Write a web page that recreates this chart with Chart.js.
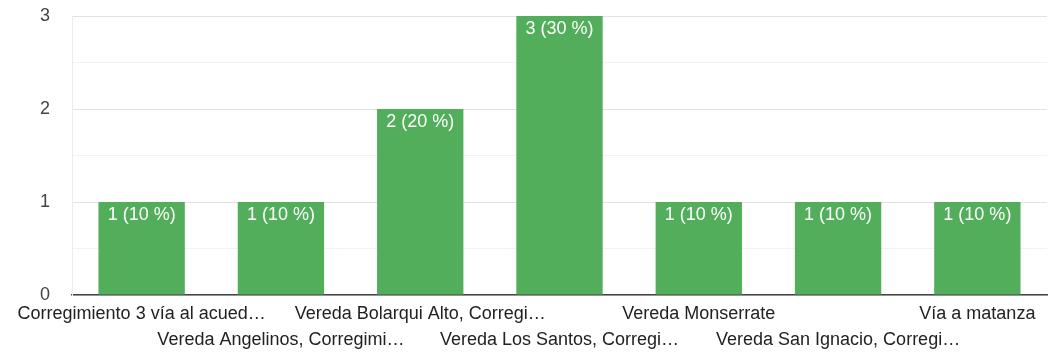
<!DOCTYPE html>
<html>
<head>
<meta charset="utf-8">
<script src="https://cdn.jsdelivr.net/npm/chart.js@4"></script>
<style>
  html, body { margin: 0; padding: 0; background: #fff; }
  #wrap { width: 1052px; height: 356px; }
</style>
</head>
<body>
<div id="wrap"><canvas id="chart" width="1052" height="356"></canvas></div>
<script>
// respuestas por ubicación
const categories = [
  'Corregimiento 3 vía al acued…',
  'Vereda Angelinos, Corregimi…',
  'Vereda Bolarqui Alto, Corregi…',
  'Vereda Los Santos, Corregi…',
  'Vereda Monserrate',
  'Vereda San Ignacio, Corregi…',
  'Vía a matanza'
];
const counts = [1, 1, 2, 3, 1, 1, 1];
const percents = [10, 10, 20, 30, 10, 10, 10];
const yTicks = [0, 1, 2, 3];

const FONT = '"Liberation Sans", Arial, sans-serif';

// etiquetas alternadas en dos filas
const staggered = categories.map((c, i) => (i % 2 === 0 ? [c, ''] : ['', c]));

const barLabels = {
  id: 'barLabels',
  afterDatasetsDraw(chart) {
    const ctx = chart.ctx;
    const meta = chart.getDatasetMeta(0);
    ctx.save();
    ctx.font = '18px ' + FONT;
    ctx.fillStyle = '#ffffff';
    ctx.textAlign = 'center';
    ctx.textBaseline = 'middle';
    meta.data.forEach((bar, i) => {
      ctx.fillText(counts[i] + ' (' + percents[i] + ' %)', bar.x, bar.y + 13);
    });
    ctx.restore();
  }
};

new Chart(document.getElementById('chart'), {
  type: 'bar',
  data: {
    labels: staggered,
    datasets: [{
      data: counts,
      backgroundColor: '#52ae5a',
      borderWidth: 0,
      barPercentage: 0.62,
      categoryPercentage: 1
    }]
  },
  options: {
    responsive: false,
    animation: false,
    layout: { padding: { top: 16, right: 5, left: 0, bottom: 0 } },
    plugins: { legend: { display: false }, tooltip: { enabled: false } },
    scales: {
      x: {
        grid: { display: false, drawTicks: false },
        border: { display: true, color: '#444', width: 1.5 },
        ticks: {
          autoSkip: false,
          maxRotation: 0,
          minRotation: 0,
          padding: 6,
          color: '#222',
          font: { family: FONT, size: 18, lineHeight: 1.45 }
        },
        afterFit: s => { s.height = 61; s.paddingLeft = 0; s.paddingRight = 0; }
      },
      y: {
        min: 0,
        max: 3,
        ticks: {
          stepSize: 0.5,
          padding: 22,
          color: '#444',
          font: { family: FONT, size: 18 },
          callback: v => (yTicks.includes(v) ? String(v) : '')
        },
        grid: {
          drawTicks: false,
          color: c => (Number.isInteger(c.tick.value) ? '#e2e2e2' : '#f2f2f2')
        },
        border: { display: true, color: '#ececec' },
        afterFit: s => { s.width = 72; s.paddingTop = 0; s.paddingBottom = 0; }
      }
    }
  },
  plugins: [barLabels]
});
</script>
</body>
</html>
